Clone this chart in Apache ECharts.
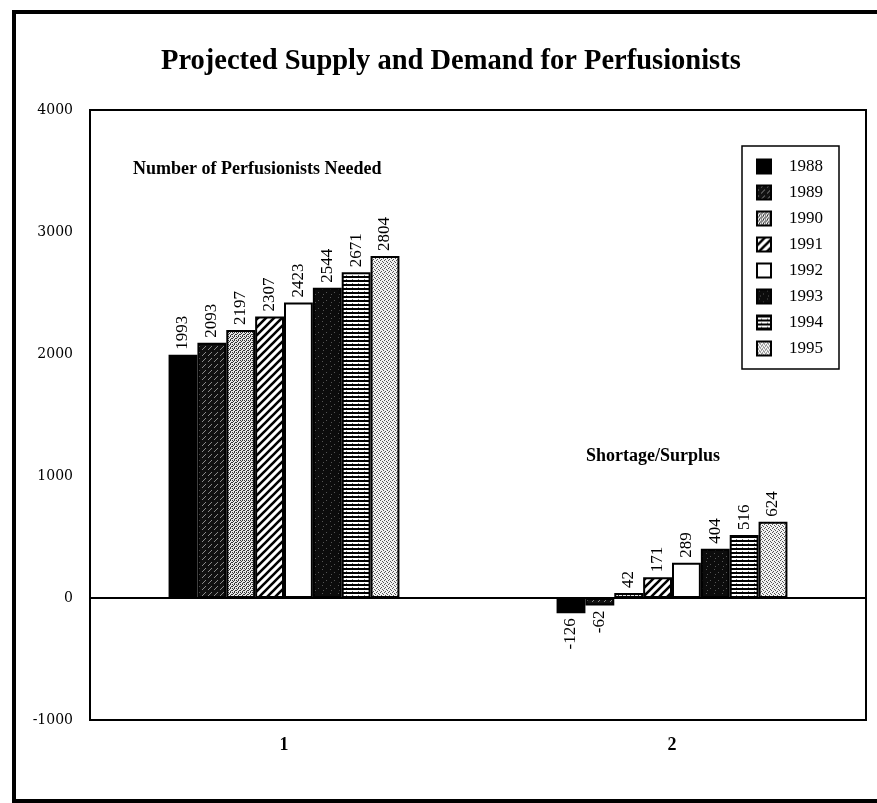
<!DOCTYPE html>
<html>
<head>
<meta charset="utf-8">
<script src="https://cdn.jsdelivr.net/npm/echarts@6/dist/echarts.min.js"></script>
<style>
html,body{margin:0;padding:0;background:#fff;}
#chart{width:877px;height:803px;}
</style>
</head>
<body>
<div id="chart"></div>
<script>
const categories = ['1', '2'];
const years = ['1988', '1989', '1990', '1991', '1992', '1993', '1994', '1995'];
const perfusionistsNeeded = [1993, 2093, 2197, 2307, 2423, 2544, 2671, 2804];
const shortageSurplus = [-126, -62, 42, 171, 289, 404, 516, 624];
const yTicks = { min: -1000, max: 4000, interval: 1000 };

function tile(w, h, draw) {
  const c = document.createElement('canvas');
  c.width = w; c.height = h;
  const g = c.getContext('2d');
  draw(g, w, h);
  return { image: c, repeat: 'repeat' };
}
function px(g, pts, color) {
  g.fillStyle = color;
  pts.forEach(p => g.fillRect(p[0], p[1], 1, 1));
}
const fills = [
  '#000000',
  tile(6, 6, (g) => {
    g.fillStyle = '#111'; g.fillRect(0, 0, 6, 6);
    px(g, [[5, 0], [4, 1], [1, 4], [0, 5]], '#8a8a8a');
  }),
  tile(4, 4, (g) => {
    g.fillStyle = '#e6e6e6'; g.fillRect(0, 0, 4, 4);
    px(g, [[0, 0], [2, 0], [1, 1], [3, 2], [0, 2], [2, 3]], '#333');
  }),
  tile(8, 8, (g) => {
    g.fillStyle = '#fff'; g.fillRect(0, 0, 8, 8);
    g.strokeStyle = '#000'; g.lineWidth = 2.6;
    g.beginPath();
    g.moveTo(-2, 10); g.lineTo(10, -2);
    g.moveTo(-6, 6); g.lineTo(6, -6);
    g.moveTo(2, 14); g.lineTo(14, 2);
    g.stroke();
  }),
  '#ffffff',
  tile(8, 8, (g) => {
    g.fillStyle = '#0c0c0c'; g.fillRect(0, 0, 8, 8);
    px(g, [[2, 1], [6, 4], [3, 6]], '#555');
  }),
  tile(6, 4, (g) => {
    g.fillStyle = '#fff'; g.fillRect(0, 0, 6, 4);
    g.fillStyle = '#000'; g.fillRect(0, 0, 6, 2);
    px(g, [[4, 3]], '#777');
  }),
  tile(4, 4, (g) => {
    g.fillStyle = '#f2f2f2'; g.fillRect(0, 0, 4, 4);
    px(g, [[0, 0], [2, 1], [1, 3], [3, 2]], '#555');
  })
];

const serif = 'Liberation Serif';

function labelFor(v) {
  if (v >= 0) {
    return { show: true, position: 'top', rotate: 90, align: 'left', verticalAlign: 'middle', distance: 5 };
  }
  return { show: true, position: 'bottom', rotate: 90, align: 'right', verticalAlign: 'middle', distance: 5 };
}

const series = years.map((y, i) => {
  const vals = [perfusionistsNeeded[i], shortageSurplus[i]];
  return {
    name: y,
    type: 'bar',
    barGap: '0%',
    barCategoryGap: '40.5%',
    itemStyle: { color: fills[i], borderColor: '#000', borderWidth: 2 },
    label: { color: '#000', fontFamily: serif, fontSize: 17 },
    data: vals.map(v => ({ value: v, label: labelFor(v) })),
    markLine: i === 0 ? {
      silent: true, symbol: 'none', label: { show: false },
      lineStyle: { color: '#000', type: 'solid', width: 2 },
      data: [{ yAxis: 0 }]
    } : undefined,
    z: 3
  };
});

const chart = echarts.init(document.getElementById('chart'), null, { renderer: 'canvas' });
chart.setOption({
  animation: false,
  backgroundColor: '#fff',
  title: {
    text: 'Projected Supply and Demand for Perfusionists',
    left: 156, top: 42,
    textStyle: { fontFamily: serif, fontWeight: 'bold', fontSize: 28.5, color: '#000' }
  },
  grid: { left: 90, right: 11, top: 110, bottom: 83, show: true, borderColor: '#000', borderWidth: 2, backgroundColor: 'transparent' },
  legend: {
    orient: 'vertical', left: 742, top: 146,
    icon: 'rect',
    itemWidth: 14, itemHeight: 14, itemGap: 9,
    padding: [12, 16, 12, 14],
    backgroundColor: '#fff', borderColor: '#000', borderWidth: 1.5,
    textStyle: { fontFamily: serif, fontSize: 17, color: '#000', padding: [0, 0, 0, 13] },
    data: years
  },
  xAxis: {
    type: 'category', data: categories,
    axisLine: { onZero: false, lineStyle: { color: '#000', width: 2 } },
    axisTick: { show: false },
    axisLabel: { fontFamily: serif, fontWeight: 'bold', fontSize: 18, color: '#000', margin: 16 }
  },
  yAxis: {
    type: 'value', min: yTicks.min, max: yTicks.max, interval: yTicks.interval,
    axisLine: { show: true, lineStyle: { color: '#000', width: 2 } },
    axisTick: { show: false },
    splitLine: { show: false },
    axisLabel: { fontFamily: 'DejaVu Serif', fontSize: 14, color: '#000', margin: 17, formatter: (v) => String(v) }
  },
  graphic: [
    { type: 'rect', shape: { x: 14, y: 12, width: 880, height: 789 }, style: { fill: 'none', stroke: '#000', lineWidth: 4 }, z: 0 },
    { type: 'text', left: 133, top: 160, style: { text: 'Number of Perfusionists Needed', font: 'bold 18px "Liberation Serif"', fill: '#000' } },
    { type: 'text', left: 586, top: 447, style: { text: 'Shortage/Surplus', font: 'bold 18px "Liberation Serif"', fill: '#000' } }
  ],
  series: series
});
</script>
</body>
</html>
